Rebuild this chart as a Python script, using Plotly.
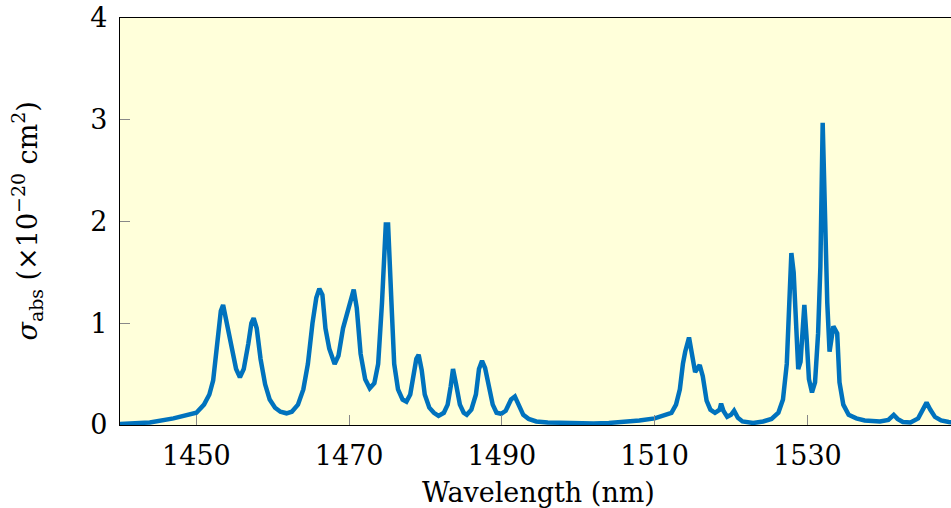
import plotly.graph_objects as go

wavelength = [1440, 1441.5, 1443.9, 1447.0, 1450.0, 1451.0, 1451.7, 1452.2, 1452.8, 1453.2, 1453.5,
              1454.0, 1454.6, 1455.2, 1455.7, 1456.2, 1456.8, 1457.2, 1457.5, 1457.9, 1458.4, 1459.0,
              1459.6, 1460.3, 1461.0, 1461.8, 1462.5, 1463.3, 1464.0, 1464.6, 1465.2, 1465.7, 1466.1,
              1466.5, 1466.9, 1467.4, 1468.1, 1468.6, 1469.2, 1469.7, 1470.1, 1470.6, 1471.0, 1471.5,
              1472.1, 1472.7, 1473.3, 1473.8, 1474.3, 1474.6, 1474.8, 1475.1, 1475.3, 1475.6, 1475.9,
              1476.4, 1477.0, 1477.5, 1478.0, 1478.5, 1478.8, 1479.1, 1479.5, 1479.9, 1480.5, 1481.1,
              1481.7, 1482.4, 1482.9, 1483.3, 1483.6, 1484.0, 1484.5, 1485.0, 1485.4, 1486.0, 1486.6,
              1487.0, 1487.4, 1487.8, 1488.3, 1488.8, 1489.3, 1489.9, 1490.5, 1491.2, 1491.7, 1492.2,
              1492.8, 1493.5, 1494.5, 1496.0, 1498.0, 1500.0, 1502.0, 1504.0, 1506.0, 1508.0, 1510.0,
              1511.2, 1512.2, 1512.8, 1513.3, 1513.7, 1514.0, 1514.5, 1514.9, 1515.3, 1515.9, 1516.3,
              1516.8, 1517.3, 1517.9, 1518.5, 1518.7, 1519.0, 1519.5, 1520.0, 1520.4, 1520.9, 1521.5,
              1522.9, 1524.2, 1525.3, 1526.2, 1526.8, 1527.3, 1527.6, 1527.9, 1528.2, 1528.5, 1528.8,
              1529.1, 1529.4, 1529.6, 1529.9, 1530.2, 1530.6, 1531.0, 1531.4, 1531.7, 1532.0, 1532.3,
              1532.6, 1532.9, 1533.2, 1533.4, 1533.9, 1534.2, 1534.7, 1535.4, 1536.4, 1537.5, 1539.5,
              1540.6, 1541.3, 1541.8, 1542.5, 1543.5, 1544.5, 1545.1, 1545.6, 1546.1, 1546.7, 1547.5,
              1548.5, 1550.0]

sigma_abs = [0.01, 0.012, 0.025, 0.065, 0.12, 0.2, 0.3, 0.44, 0.83, 1.12, 1.18,
             1.0, 0.75, 0.55, 0.47, 0.55, 0.8, 1.0, 1.05, 0.95, 0.65, 0.4,
             0.25, 0.17, 0.13, 0.115, 0.13, 0.2, 0.35, 0.6, 1.0, 1.25, 1.34,
             1.28, 0.95, 0.75, 0.6, 0.68, 0.95, 1.1, 1.2, 1.33, 1.15, 0.7,
             0.45, 0.36, 0.41, 0.6, 1.2, 1.7, 1.97, 1.97, 1.69, 1.1, 0.6,
             0.35, 0.25, 0.23, 0.3, 0.5, 0.65, 0.69, 0.54, 0.3, 0.17, 0.12,
             0.09, 0.12, 0.2, 0.38, 0.55, 0.4, 0.2, 0.12, 0.1, 0.15, 0.3,
             0.55, 0.63, 0.56, 0.35, 0.2, 0.12, 0.11, 0.14, 0.25, 0.28, 0.2,
             0.1, 0.06, 0.035, 0.025, 0.02, 0.015, 0.015, 0.02, 0.03, 0.045, 0.065,
             0.09, 0.12, 0.2, 0.35, 0.6, 0.72, 0.86, 0.7, 0.52, 0.59, 0.48,
             0.24, 0.15, 0.12, 0.15, 0.21, 0.14, 0.08, 0.1, 0.14, 0.07, 0.035,
             0.02, 0.035, 0.06, 0.12, 0.25, 0.6, 1.1, 1.69, 1.5, 1.0, 0.55,
             0.62, 1.0, 1.18, 0.85, 0.45, 0.32, 0.42, 0.9, 1.56, 2.97, 1.95,
             1.2, 0.72, 0.9, 0.97, 0.9, 0.42, 0.2, 0.1, 0.065, 0.045, 0.035,
             0.05, 0.1, 0.06, 0.03, 0.025, 0.065, 0.15, 0.22, 0.15, 0.08, 0.045,
             0.03, 0.02]

x_ticks = [1450, 1470, 1490, 1510, 1530]
y_ticks = [0, 1, 2, 3, 4]

FONT = "DejaVu Serif"
SIZE = 27

fig = go.Figure()
fig.add_trace(go.Scatter(x=wavelength, y=sigma_abs, mode="lines",
                         line=dict(color="#0072BD", width=4.5), showlegend=False))

fig.update_layout(
    width=951, height=508,
    margin=dict(l=120, r=0, t=18, b=83),
    paper_bgcolor="white",
    plot_bgcolor="#FFFFDA",
    font=dict(family=FONT, size=SIZE, color="black"),
    xaxis=dict(range=[1440, 1548.8], tickvals=x_ticks, ticks="inside", ticklen=10,
               tickcolor="#888888", tickwidth=1, showgrid=False, zeroline=False,
               showline=True, linecolor="black", linewidth=1.3, mirror=True,
               tickfont=dict(family=FONT, size=SIZE), ticklabelstandoff=6),
    yaxis=dict(range=[0, 4], tickvals=y_ticks, ticks="inside", ticklen=10,
               tickcolor="#888888", tickwidth=1, showgrid=False, zeroline=False,
               showline=True, linecolor="black", linewidth=1.3,
               tickfont=dict(family=FONT, size=SIZE), ticklabelstandoff=6),
    annotations=[
        dict(text="Wavelength (nm)", xref="paper", yref="paper",
             x=(538 - 120) / 831, y=-(492 - 425) / 407, xanchor="center", yanchor="middle",
             showarrow=False, font=dict(family=FONT, size=SIZE)),
        dict(text="<i>σ</i><sub>abs</sub> (×10<sup>−20</sup> cm<sup>2</sup>)",
             xref="paper", yref="paper", x=-(120 - 27) / 831, y=0.5,
             xanchor="center", yanchor="middle", textangle=-90,
             showarrow=False, font=dict(family=FONT, size=SIZE)),
    ],
)

fig.write_html("out.html")
